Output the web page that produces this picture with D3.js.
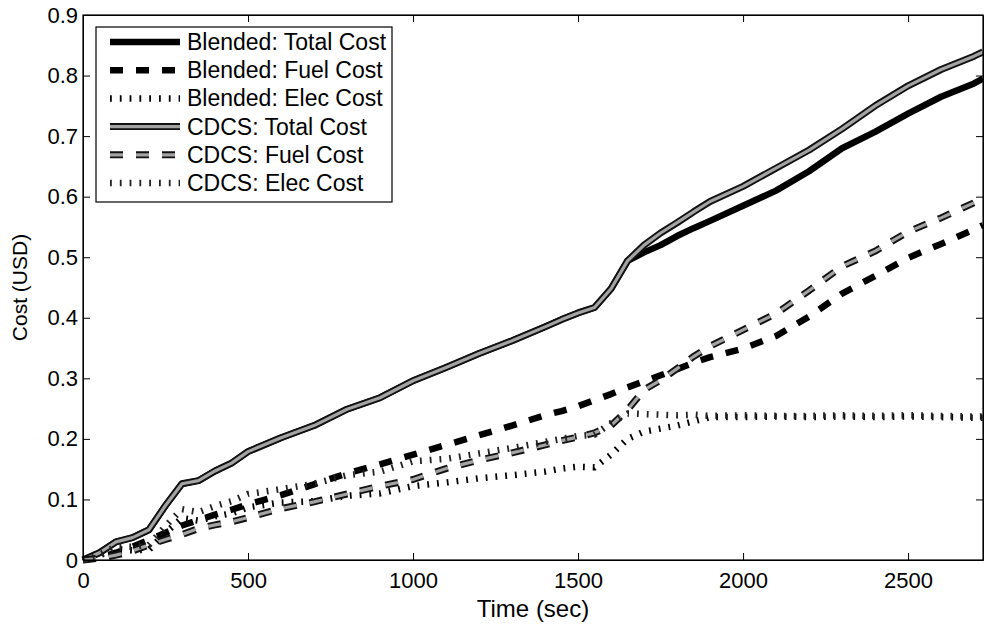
<!DOCTYPE html>
<html>
<head>
<meta charset="utf-8">
<script src="https://cdn.jsdelivr.net/npm/d3@7"></script>
<style>
  body { margin: 0; background: #fff; }
  svg text { font-family: "Liberation Sans", Arial, sans-serif; fill: #000; }
</style>
</head>
<body>
<svg id="chart" width="984" height="627"></svg>
<script>
// time grid (sec)
const time = [0, 50, 100, 150, 200, 250, 300, 350, 400, 450, 500, 600, 700, 800, 900, 1000, 1100, 1200, 1300, 1400,
  1450, 1500, 1550, 1600, 1650, 1700, 1750, 1800, 1850, 1900, 2000, 2100, 2200, 2300, 2400, 2500, 2600, 2700, 2727];

// cost values (USD)
const blendedTotal = [0, 0.012, 0.03, 0.037, 0.05, 0.09, 0.126, 0.131, 0.147, 0.16, 0.179, 0.202, 0.222, 0.249, 0.268, 0.296, 0.318, 0.341, 0.362, 0.385,
  0.397, 0.408, 0.417, 0.448, 0.494, 0.508, 0.52, 0.535, 0.548, 0.56, 0.585, 0.61, 0.642, 0.68, 0.707, 0.737, 0.765, 0.787, 0.795];
const blendedFuel = [0, 0.004, 0.012, 0.022, 0.033, 0.045, 0.057, 0.066, 0.075, 0.083, 0.092, 0.107, 0.125, 0.143, 0.158, 0.174, 0.19, 0.206, 0.222, 0.239,
  0.246, 0.254, 0.264, 0.274, 0.285, 0.295, 0.305, 0.315, 0.326, 0.335, 0.349, 0.37, 0.402, 0.44, 0.469, 0.499, 0.522, 0.546, 0.553];
const blendedElec = [0, 0.008, 0.018, 0.016, 0.017, 0.045, 0.069, 0.065, 0.072, 0.077, 0.087, 0.095, 0.097, 0.106, 0.11, 0.122, 0.128, 0.135, 0.14, 0.146,
  0.151, 0.154, 0.153, 0.174, 0.2, 0.212, 0.217, 0.222, 0.229, 0.236, 0.236, 0.237, 0.236, 0.237, 0.236, 0.237, 0.236, 0.235, 0.235];
const cdcsTotal = [0, 0.012, 0.03, 0.037, 0.05, 0.09, 0.126, 0.131, 0.147, 0.16, 0.179, 0.202, 0.222, 0.249, 0.268, 0.296, 0.318, 0.341, 0.362, 0.385,
  0.397, 0.408, 0.417, 0.448, 0.494, 0.52, 0.54, 0.557, 0.575, 0.592, 0.617, 0.647, 0.677, 0.712, 0.75, 0.783, 0.81, 0.832, 0.839];
const cdcsFuel = [0, 0.003, 0.008, 0.015, 0.025, 0.034, 0.042, 0.052, 0.058, 0.063, 0.07, 0.085, 0.096, 0.109, 0.122, 0.133, 0.151, 0.165, 0.177, 0.19,
  0.197, 0.203, 0.21, 0.222, 0.248, 0.281, 0.297, 0.316, 0.336, 0.353, 0.38, 0.407, 0.445, 0.485, 0.51, 0.542, 0.565, 0.59, 0.598];
const cdcsElec = [0, 0.009, 0.022, 0.022, 0.025, 0.056, 0.084, 0.079, 0.089, 0.097, 0.109, 0.117, 0.126, 0.14, 0.146, 0.163, 0.167, 0.176, 0.185, 0.195,
  0.2, 0.205, 0.207, 0.226, 0.242, 0.241, 0.24, 0.239, 0.24, 0.238, 0.239, 0.238, 0.238, 0.239, 0.238, 0.239, 0.238, 0.237, 0.237];

const seriesNames = ["Blended: Total Cost", "Blended: Fuel Cost", "Blended: Elec Cost",
  "CDCS: Total Cost", "CDCS: Fuel Cost", "CDCS: Elec Cost"];
const xTicks = [0, 500, 1000, 1500, 2000, 2500];
const yTicks = [0, 0.1, 0.2, 0.3, 0.4, 0.5, 0.6, 0.7, 0.8, 0.9];

// line look per series (black outline, optional grey core, dash pattern)
const styles = [
  {color: "#000", w: 6.5, inner: null, dash: null},
  {color: "#000", w: 6.5, inner: null, dash: "13,13"},
  {color: "#000", w: 6.5, inner: null, dash: "1.8,8"},
  {color: "#111", w: 7, inner: "#a3a3a3", iw: 3.2, dash: null},
  {color: "#111", w: 7, inner: "#a3a3a3", iw: 3.2, dash: "13,13"},
  {color: "#222", w: 6.5, inner: null, dash: "1.8,8"}
];

const plot = {left: 83, right: 983, top: 15, bottom: 560};
const svg = d3.select("#chart");

const x = d3.scaleLinear().domain([0, 2727]).range([plot.left, plot.right]);
const y = d3.scaleLinear().domain([0, 0.9]).range([plot.bottom, plot.top]);

const allSeries = [blendedTotal, blendedFuel, blendedElec, cdcsTotal, cdcsFuel, cdcsElec];

// lines
const line = d3.line().x((d, i) => x(time[i])).y(d => y(d));
const lines = svg.append("g");
allSeries.forEach((vals, k) => {
  const s = styles[k];
  lines.append("path").datum(vals)
    .attr("d", line).attr("fill", "none")
    .attr("stroke", s.color).attr("stroke-width", s.w)
    .attr("stroke-dasharray", s.dash).attr("stroke-linejoin", "round");
  if (s.inner) {
    lines.append("path").datum(vals)
      .attr("d", line).attr("fill", "none")
      .attr("stroke", s.inner).attr("stroke-width", s.iw)
      .attr("stroke-dasharray", s.dash).attr("stroke-linejoin", "round");
  }
});

// axes box with inward ticks (MATLAB look)
const tickLen = 7;
const fontTick = 22;
svg.append("g").attr("transform", `translate(0,${plot.bottom})`)
  .call(d3.axisBottom(x).tickValues(xTicks).tickSizeInner(-tickLen).tickSizeOuter(0).tickPadding(12).tickFormat(d3.format("d")))
  .call(g => g.selectAll("text").style("font-size", fontTick + "px"));
svg.append("g").attr("transform", `translate(0,${plot.top})`)
  .call(d3.axisTop(x).tickValues(xTicks).tickSizeInner(-tickLen).tickSizeOuter(0).tickFormat(""));
svg.append("g").attr("transform", `translate(${plot.left},0)`)
  .call(d3.axisLeft(y).tickValues(yTicks).tickSizeInner(-tickLen).tickSizeOuter(0).tickPadding(5)
    .tickFormat(d => d === 0 ? "0" : d3.format(".1f")(d)))
  .call(g => g.selectAll("text").style("font-size", fontTick + "px"));
svg.append("g").attr("transform", `translate(${plot.right},0)`)
  .call(d3.axisRight(y).tickValues(yTicks).tickSizeInner(-tickLen).tickSizeOuter(0).tickFormat(""));
svg.selectAll(".domain").attr("stroke", "#000");
svg.selectAll(".tick line").attr("stroke", "#000");
svg.append("rect")
  .attr("x", plot.left).attr("y", plot.top)
  .attr("width", plot.right - plot.left).attr("height", plot.bottom - plot.top)
  .attr("fill", "none").attr("stroke", "#000").attr("stroke-width", 1.2);

// axis titles
svg.append("text").attr("x", (plot.left + plot.right) / 2).attr("y", 617)
  .attr("text-anchor", "middle").style("font-size", "24px").text("Time (sec)");
svg.append("text").attr("transform", `translate(27,${(plot.top + plot.bottom) / 2}) rotate(-90)`)
  .attr("text-anchor", "middle").style("font-size", "21px").text("Cost (USD)");

// legend
const legend = svg.append("g");
legend.append("rect").attr("x", 96).attr("y", 27).attr("width", 296).attr("height", 175)
  .attr("fill", "#fff").attr("stroke", "#000").attr("stroke-width", 1.2);
seriesNames.forEach((name, k) => {
  const s = styles[k];
  const ly = 42 + k * 28.2;
  legend.append("line").attr("x1", 110).attr("x2", 180).attr("y1", ly).attr("y2", ly)
    .attr("stroke", s.color).attr("stroke-width", s.w).attr("stroke-dasharray", s.dash);
  if (s.inner) {
    legend.append("line").attr("x1", 110).attr("x2", 180).attr("y1", ly).attr("y2", ly)
      .attr("stroke", s.inner).attr("stroke-width", s.iw).attr("stroke-dasharray", s.dash);
  }
  legend.append("text").attr("x", 187).attr("y", ly + 8).style("font-size", "23px").text(name);
});
</script>
</body>
</html>
